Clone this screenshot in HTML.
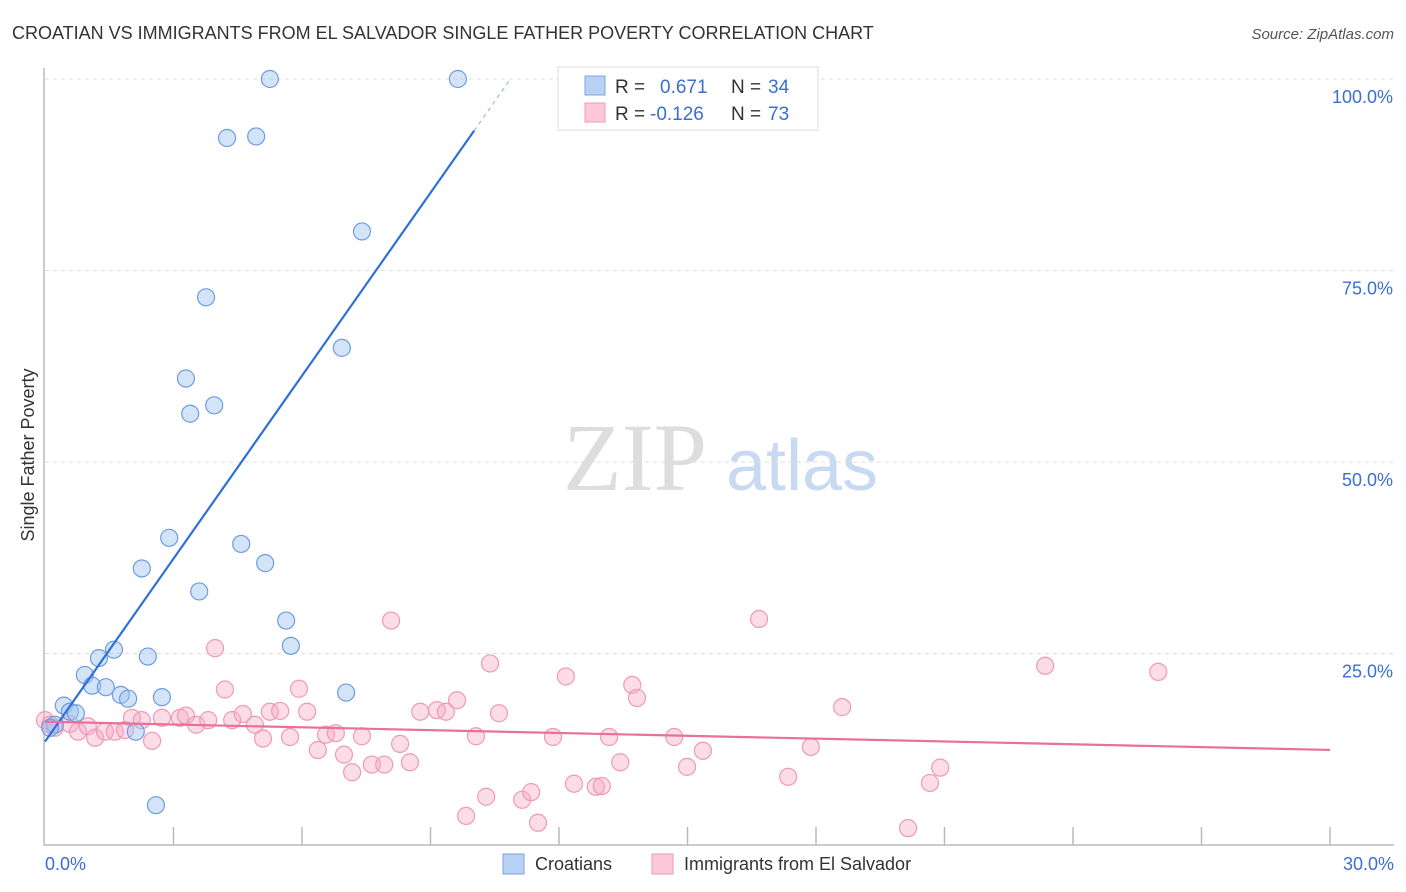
<!DOCTYPE html>
<html><head><meta charset="utf-8">
<style>
body{margin:0;background:#fff;font-family:"Liberation Sans",sans-serif;}
svg{display:block}
</style></head>
<body>
<svg id="chart" width="1406" height="892" xmlns="http://www.w3.org/2000/svg">
<text x="12" y="39" font-size="18" fill="#333">CROATIAN VS IMMIGRANTS FROM EL SALVADOR SINGLE FATHER POVERTY CORRELATION CHART</text>
<text x="1394" y="39" font-size="15" fill="#555" font-style="italic" text-anchor="end">Source: ZipAtlas.com</text>
<text x="34" y="455" font-size="18" fill="#333" text-anchor="middle" transform="rotate(-90 34 455)">Single Father Poverty</text>
<g>
<text x="635" y="490" font-size="96" fill="#ddd" text-anchor="middle" font-family="Liberation Serif,serif">ZIP</text>
<text x="802" y="490" font-size="72" fill="#c8daf2" text-anchor="middle">atlas</text>
</g>
<g id="grid"></g><g id="axes"></g><g id="marks"></g>
<g>
<rect x="558" y="67" width="260" height="63" fill="#fff" stroke="#ddd"/>
<rect x="585" y="76" width="20" height="19" fill="#b8d2f5" stroke="#7ea6e0"/>
<rect x="585" y="103" width="20" height="19" fill="#fcc8d8" stroke="#ee9ab5"/>
<text x="615" y="93" font-size="19" fill="#333">R =</text><text x="660" y="93" font-size="19" fill="#3a6fd0">0.671</text>
<text x="731" y="93" font-size="19" fill="#333">N =</text><text x="768" y="93" font-size="19" fill="#3a6fd0">34</text>
<text x="615" y="120" font-size="19" fill="#333">R =</text><text x="650" y="120" font-size="19" fill="#3a6fd0">-0.126</text>
<text x="731" y="120" font-size="19" fill="#333">N =</text><text x="768" y="120" font-size="19" fill="#3a6fd0">73</text>
</g>
<g>
<rect x="503" y="854" width="21" height="20" fill="#b8d2f5" stroke="#7ea6e0"/>
<text x="535" y="870" font-size="18" fill="#333">Croatians</text>
<rect x="652" y="854" width="21" height="20" fill="#fcc8d8" stroke="#ee9ab5"/>
<text x="684" y="870" font-size="18" fill="#333">Immigrants from El Salvador</text>
</g>
</svg>
<script>
const xTicks=[0,3,6,9,12,15,18,21,24,27,30];
const yTicks=[25,50,75,100];
const blueX=[5.25,9.64,4.25,4.93,7.40,3.76,6.93,3.29,3.39,3.95,2.90,4.58,5.14,2.26,3.60,5.63,5.74,1.61,1.26,2.40,0.93,1.10,1.42,1.77,1.94,2.73,7.03,0.44,0.58,0.72,2.12,2.59,0.23,0.12];
const blueY=[100,100,92.3,92.5,80.1,71.5,64.9,60.9,56.3,57.4,40.1,39.3,36.8,36.1,33.1,29.3,26.0,25.5,24.4,24.6,22.2,20.8,20.6,19.6,19.1,19.3,19.9,18.2,17.4,17.2,14.8,5.2,15.7,15.3];
const pinkX=[0.0,0.12,0.23,0.58,0.77,1.0,1.17,1.40,1.63,1.87,2.03,2.26,2.50,2.73,3.15,3.29,3.53,3.81,3.97,4.20,4.37,4.62,4.90,5.09,5.25,5.49,5.72,5.93,6.12,6.37,6.56,6.79,6.98,7.17,7.40,7.63,7.92,8.08,8.29,8.52,8.76,9.15,9.36,9.62,9.83,10.06,10.30,10.39,10.60,11.14,11.35,11.51,11.86,12.16,12.35,12.86,13.00,13.17,13.43,13.71,13.82,14.69,14.99,15.36,16.67,17.35,17.88,18.61,20.15,20.66,20.90,23.35,25.99];
const pinkY=[16.3,15.7,15.3,15.8,14.8,15.5,14.0,14.8,14.8,15.0,16.6,16.3,13.6,16.6,16.6,16.9,15.7,16.3,25.7,20.3,16.3,17.1,15.7,13.9,17.4,17.5,14.1,20.4,17.4,12.4,14.4,14.6,11.8,9.5,14.2,10.5,10.5,29.3,13.2,10.8,17.4,17.6,17.4,18.9,3.8,14.2,6.3,23.7,17.2,5.9,6.9,2.9,14.1,22.0,8.0,7.6,7.7,14.1,10.8,20.9,19.2,14.1,10.2,12.3,29.5,8.9,12.8,18.0,2.2,8.1,10.1,23.4,22.6];
const blueTrend=[13.5,7.96]; // intercept, slope
const pinkTrend=[16.1,-0.123];
const NS='http://www.w3.org/2000/svg';
const X0=45,X1=1330,Y0=845,YT=79;
const sx=v=>X0+(X1-X0)*v/30;
const sy=v=>Y0-(Y0-YT)*v/100;
function mk(tag,attrs,parent){const e=document.createElementNS(NS,tag);for(const k in attrs)e.setAttribute(k,attrs[k]);document.getElementById(parent).appendChild(e);return e;}
yTicks.forEach(t=>{
 const l=mk('line',{x1:X0,x2:1394,y1:sy(t),y2:sy(t),stroke:'#ddd','stroke-dasharray':'4 4'},'grid');
 
 
 const tx=mk('text',{x:1393,y:sy(t)+24,'font-size':18,fill:'#3a6fd0','text-anchor':'end'},'axes');
 tx.textContent=t.toFixed(1)+'%';
 
 
});
const ax=mk('path',{d:`M${X0-1},68 V${Y0} H1394`,stroke:'#bbb',fill:'none','stroke-width':1.5},'axes');


xTicks.slice(1).forEach(t=>{
 const l=mk('line',{x1:sx(t),x2:sx(t),y1:827,y2:Y0,stroke:'#bbb','stroke-width':1.5},'axes');
 
 
});
[[0,'0.0%',45,'start'],[30,'30.0%',1394,'end']].forEach(a=>{
 const tx=mk('text',{x:a[2],y:870,'font-size':18,fill:'#3a6fd0','text-anchor':a[3]},'axes');
 tx.textContent=a[1];
 
 
});
pinkX.forEach((x,i)=>{
 const c=mk('circle',{cx:sx(x),cy:sy(pinkY[i]),r:8.5,fill:'rgba(248,170,195,0.4)',stroke:'#ee9ab5','stroke-width':1.2},'marks');
 
 
});
blueX.forEach((x,i)=>{
 const c=mk('circle',{cx:sx(x),cy:sy(blueY[i]),r:8.5,fill:'rgba(160,195,240,0.45)',stroke:'#6f9ce0','stroke-width':1.2},'marks');
 
 
});
const bEnd=(100-blueTrend[0])/blueTrend[1], bSolid=10.02;
const bl=mk('line',{x1:sx(0),y1:sy(blueTrend[0]),x2:sx(bSolid),y2:sy(blueTrend[0]+blueTrend[1]*bSolid),stroke:'#2f6fd6','stroke-width':2.2},'marks');


const bd=mk('line',{x1:sx(bSolid),y1:sy(blueTrend[0]+blueTrend[1]*bSolid),x2:sx(bEnd),y2:sy(100),stroke:'#9bb8e8','stroke-width':1.2,'stroke-dasharray':'4 4'},'marks');


const pl=mk('line',{x1:sx(0),y1:sy(pinkTrend[0]),x2:sx(30),y2:sy(pinkTrend[0]+pinkTrend[1]*30),stroke:'#e8709a','stroke-width':2.2},'marks');


</script>
</body></html>
